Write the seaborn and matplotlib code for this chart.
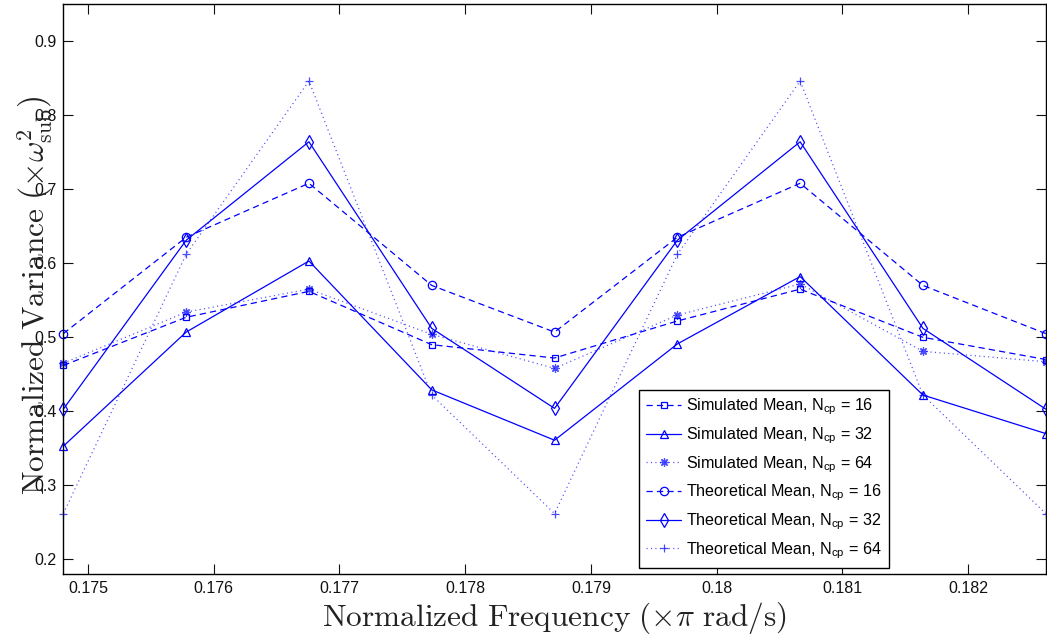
import numpy as np
import pandas as pd
import matplotlib
matplotlib.use("Agg")
import matplotlib.pyplot as plt
import seaborn as sns

# Frequency bins k/1024 (x pi rad/s)
bins = np.arange(179, 188)
freq = bins / 1024.0

sim_16 = [0.462, 0.527, 0.562, 0.490, 0.472, 0.522, 0.565, 0.500, 0.470]
sim_32 = [0.353, 0.507, 0.603, 0.429, 0.361, 0.491, 0.582, 0.422, 0.370]
sim_64 = [0.465, 0.534, 0.565, 0.504, 0.458, 0.530, 0.572, 0.481, 0.467]
theo_16 = [0.505, 0.635, 0.708, 0.570, 0.507, 0.635, 0.708, 0.570, 0.505]
theo_32 = [0.403, 0.631, 0.764, 0.512, 0.404, 0.631, 0.764, 0.512, 0.403]
theo_64 = [0.262, 0.612, 0.846, 0.422, 0.262, 0.612, 0.846, 0.422, 0.262]

labels = [
    r"Simulated Mean, N$_{\mathrm{cp}}$ = 16",
    r"Simulated Mean, N$_{\mathrm{cp}}$ = 32",
    r"Simulated Mean, N$_{\mathrm{cp}}$ = 64",
    r"Theoretical Mean, N$_{\mathrm{cp}}$ = 16",
    r"Theoretical Mean, N$_{\mathrm{cp}}$ = 32",
    r"Theoretical Mean, N$_{\mathrm{cp}}$ = 64",
]
series = [sim_16, sim_32, sim_64, theo_16, theo_32, theo_64]

xticks = [0.175, 0.176, 0.177, 0.178, 0.179, 0.18, 0.181, 0.182]
xtick_labels = ["0.175", "0.176", "0.177", "0.178", "0.179", "0.18", "0.181", "0.182"]
yticks = [0.2, 0.3, 0.4, 0.5, 0.6, 0.7, 0.8, 0.9]
ytick_labels = ["0.2", "0.3", "0.4", "0.5", "0.6", "0.7", "0.8", "0.9"]

sns.set_theme(style="white")
plt.rcParams["font.family"] = ["Liberation Sans", "DejaVu Sans"]
plt.rcParams["mathtext.fontset"] = "custom"
plt.rcParams["mathtext.rm"] = "Liberation Sans"
plt.rcParams["mathtext.it"] = "Liberation Sans:italic"
plt.rcParams["lines.scale_dashes"] = False

BLUE = "#0000ff"
dash = (0, (4.5, 3.0))
dot = (0, (0.8, 2.4))
styles = [
    dict(ls=dash, marker="s", ms=5, alpha=1.0),
    dict(ls="-", marker="^", ms=6, alpha=1.0),
    dict(ls=dot, marker=(8, 2, 0), ms=6, alpha=0.7),
    dict(ls=dash, marker="o", ms=6, alpha=1.0),
    dict(ls="-", marker="d", ms=7, alpha=1.0),
    dict(ls=dot, marker="+", ms=6, alpha=0.7),
]

fig = plt.figure(figsize=(10.47, 6.39), dpi=100)
ax = fig.add_axes([0.0605, 0.1013, 0.9383, 0.8924])

for vals, lab, st in zip(series, labels, styles):
    df = pd.DataFrame({"freq": freq, "var": vals})
    sns.lineplot(data=df, x="freq", y="var", ax=ax, color=BLUE, lw=0.9,
                 linestyle=st["ls"], marker=st["marker"], markersize=st["ms"],
                 markerfacecolor="none", markeredgecolor=BLUE, markeredgewidth=0.9,
                 alpha=st["alpha"], label=lab, clip_on=False, estimator=None)

ax.set_xlim(179 / 1024.0, 187 / 1024.0)
ax.set_ylim(0.18, 0.95)
ax.set_xticks(xticks)
ax.set_xticklabels(xtick_labels)
ax.set_yticks(yticks)
ax.set_yticklabels(ytick_labels)
ax.tick_params(direction="in", length=7, width=0.8, colors="#111111",
               labelsize=11.5, top=True, right=True, bottom=True, left=True, pad=5)
for sp in ax.spines.values():
    sp.set_color("black")
    sp.set_linewidth(1.0)

ax.set_xlabel(r"$\mathrm{Normalized\ Frequency\ }\left(\times\pi\mathrm{\ rad/s}\right)$",
              fontsize=22.6, math_fontfamily="cm", color="#222222")
ax.set_ylabel(r"$\mathrm{Normalized\ Variance\ }\left(\times\omega_{\mathrm{sub}}^{2}\right)$",
              fontsize=22.6, math_fontfamily="cm", color="#222222")
ax.xaxis.set_label_coords(0.5, -0.045)
ax.yaxis.set_label_coords(-0.009, 0.49)

leg = ax.legend(loc="lower right", bbox_to_anchor=(0.8405, 0.011), borderaxespad=0,
                fontsize=11.6, frameon=True, fancybox=False, edgecolor="black",
                handlelength=2.2, handletextpad=0.3, labelspacing=0.5,
                borderpad=0.45, framealpha=1)
leg.get_frame().set_linewidth(1.0)
for t in leg.get_texts():
    t.set_color("black")

fig.savefig("out.png", dpi=100)
